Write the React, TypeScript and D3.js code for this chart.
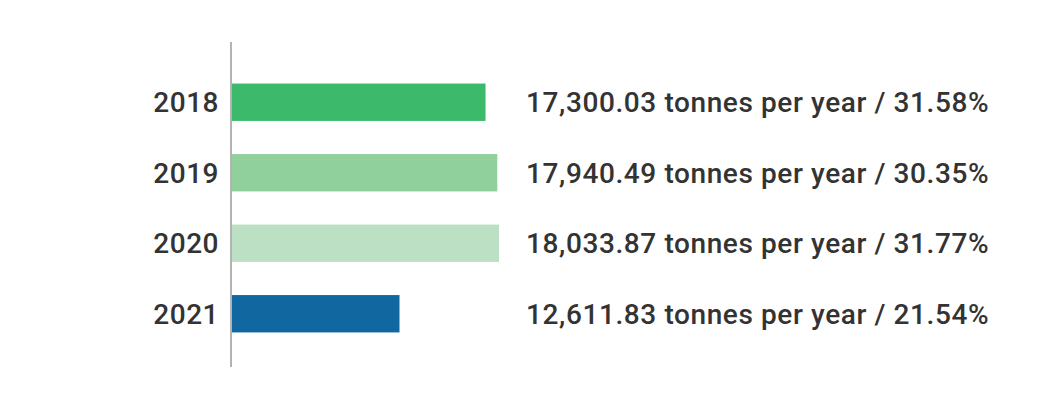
import React from "react";
import * as d3 from "d3";

const years = ["2018", "2019", "2020", "2021"];
const tonnes = [17300.03, 17940.49, 18033.87, 12611.83];
const shares = [31.58, 30.35, 31.77, 21.54];
const colors = ["#3cb96b", "#8fd09d", "#bce0c3", "#11679f"];

const W = 1049;
const H = 394;

export default function App() {
  const x = d3.scaleLinear().domain([3485, 18033.87]).range([232, 499]);
  const y = d3.scaleBand().domain(years).range([67, 349]).paddingInner(0.47).paddingOuter(0.235);
  const fmt = d3.format(",.2f");
  const font = "Roboto, 'Liberation Sans', Arial, sans-serif";
  return (
    <svg width={W} height={H} style={{ position: "absolute", left: 0, top: 0, background: "#fff" }}>
      <line x1={231} x2={231} y1={42} y2={367} stroke="#b3b3b3" strokeWidth={2} />
      {years.map((yr, i) => {
        const cy = (y(yr) as number) + y.bandwidth() / 2;
        return (
          <g key={yr}>
            <rect x={232} y={y(yr)} width={x(tonnes[i]) - 232} height={y.bandwidth()} fill={colors[i]} />
            <text x={219} y={cy} dy="0.36em" textAnchor="end" fontFamily={font} fontSize={28} fill="#333" style={{ fontWeight: 500 }} letterSpacing={0.5}>
              {yr}
            </text>
            <text x={526} y={cy} dy="0.36em" fontFamily={font} fontSize={28} fill="#333" style={{ fontWeight: 500 }} letterSpacing={0.6}>
              {`${fmt(tonnes[i])} tonnes per year / ${shares[i].toFixed(2)}%`}
            </text>
          </g>
        );
      })}
    </svg>
  );
}
